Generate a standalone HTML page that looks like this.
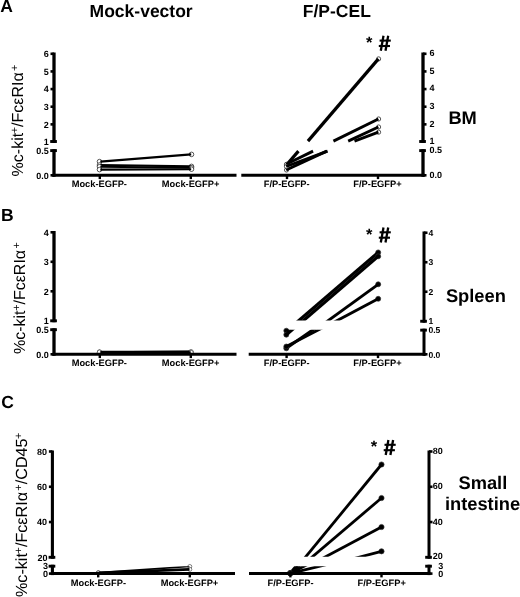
<!DOCTYPE html>
<html><head><meta charset="utf-8"><title>Figure</title>
<style>
html,body{margin:0;padding:0;background:#fff;}
body{width:520px;height:597px;overflow:hidden;font-family:"Liberation Sans",sans-serif;}
svg{display:block;will-change:transform;filter:grayscale(1);}
</style></head><body>
<svg width="520" height="597" viewBox="0 0 520 597" font-family="Liberation Sans, sans-serif" fill="#000" text-rendering="geometricPrecision">
<rect width="520" height="597" fill="#fff"/>
<clipPath id="upA"><rect x="54" y="40.5" width="369" height="100.60"/></clipPath>
<clipPath id="loA"><rect x="54" y="151.10" width="369" height="30.20"/></clipPath>
<circle cx="99.50" cy="161.60" r="2.3" fill="#fff" stroke="#111" stroke-width="0.7"/>
<circle cx="191.50" cy="154.40" r="2.3" fill="#fff" stroke="#111" stroke-width="0.7"/>
<line x1="100.30" y1="161.60" x2="191.20" y2="154.40" stroke="#000" stroke-width="2.1" />
<circle cx="99.50" cy="165.00" r="2.3" fill="#fff" stroke="#111" stroke-width="0.7"/>
<circle cx="191.50" cy="166.40" r="2.3" fill="#fff" stroke="#111" stroke-width="0.7"/>
<line x1="100.30" y1="165.00" x2="191.20" y2="166.40" stroke="#000" stroke-width="2.1" />
<circle cx="99.50" cy="166.70" r="2.3" fill="#fff" stroke="#111" stroke-width="0.7"/>
<circle cx="191.50" cy="167.80" r="2.3" fill="#fff" stroke="#111" stroke-width="0.7"/>
<line x1="100.30" y1="166.70" x2="191.20" y2="167.80" stroke="#000" stroke-width="2.1" />
<circle cx="99.50" cy="169.60" r="2.3" fill="#fff" stroke="#111" stroke-width="0.7"/>
<circle cx="191.50" cy="169.20" r="2.3" fill="#fff" stroke="#111" stroke-width="0.7"/>
<line x1="100.30" y1="169.60" x2="191.20" y2="169.20" stroke="#000" stroke-width="2.1" />
<circle cx="286.50" cy="165.20" r="2.1" fill="#fff" stroke="#111" stroke-width="0.7"/>
<circle cx="378.60" cy="58.90" r="2.1" fill="#fff" stroke="#111" stroke-width="0.7"/>
<line x1="286.20" y1="165.20" x2="298.43" y2="151.10" stroke="#000" stroke-width="3.2" />
<line x1="307.96" y1="141.10" x2="378.40" y2="58.90" stroke="#000" stroke-width="3.2" />
<circle cx="286.50" cy="164.30" r="2.1" fill="#fff" stroke="#111" stroke-width="0.7"/>
<circle cx="378.60" cy="119.00" r="2.1" fill="#fff" stroke="#111" stroke-width="0.7"/>
<line x1="286.20" y1="164.30" x2="313.07" y2="151.10" stroke="#000" stroke-width="2.9" />
<line x1="333.42" y1="141.10" x2="378.40" y2="119.00" stroke="#000" stroke-width="2.9" />
<circle cx="286.50" cy="170.00" r="2.1" fill="#fff" stroke="#111" stroke-width="0.7"/>
<circle cx="378.60" cy="127.00" r="2.1" fill="#fff" stroke="#111" stroke-width="0.7"/>
<line x1="286.20" y1="170.00" x2="326.73" y2="151.10" stroke="#000" stroke-width="2.9" />
<line x1="348.17" y1="141.10" x2="378.40" y2="127.00" stroke="#000" stroke-width="2.9" />
<circle cx="286.50" cy="166.50" r="2.1" fill="#fff" stroke="#111" stroke-width="0.7"/>
<circle cx="378.60" cy="132.20" r="2.1" fill="#fff" stroke="#111" stroke-width="0.7"/>
<line x1="286.20" y1="166.50" x2="327.60" y2="151.10" stroke="#000" stroke-width="2.9" />
<line x1="354.48" y1="141.10" x2="378.40" y2="132.20" stroke="#000" stroke-width="2.9" />
<line x1="54.00" y1="52.50" x2="54.00" y2="142.95" stroke="#000" stroke-width="3.3" />
<line x1="54.00" y1="149.15" x2="54.00" y2="176.80" stroke="#000" stroke-width="3.3" />
<line x1="54.00" y1="53.80" x2="50.50" y2="53.80" stroke="#000" stroke-width="2.6" />
<line x1="54.00" y1="71.44" x2="50.50" y2="71.44" stroke="#000" stroke-width="2.6" />
<line x1="54.00" y1="89.08" x2="50.50" y2="89.08" stroke="#000" stroke-width="2.6" />
<line x1="54.00" y1="106.72" x2="50.50" y2="106.72" stroke="#000" stroke-width="2.6" />
<line x1="54.00" y1="124.36" x2="50.50" y2="124.36" stroke="#000" stroke-width="2.6" />
<line x1="54.00" y1="175.30" x2="50.50" y2="175.30" stroke="#000" stroke-width="2.6" />
<line x1="50.20" y1="141.50" x2="56.90" y2="141.50" stroke="#000" stroke-width="2.9" />
<line x1="50.20" y1="150.60" x2="56.90" y2="150.60" stroke="#000" stroke-width="2.9" />
<line x1="423.00" y1="52.50" x2="423.00" y2="142.95" stroke="#000" stroke-width="3.3" />
<line x1="423.00" y1="149.15" x2="423.00" y2="176.80" stroke="#000" stroke-width="3.3" />
<line x1="423.00" y1="53.80" x2="426.50" y2="53.80" stroke="#000" stroke-width="2.6" />
<line x1="423.00" y1="71.44" x2="426.50" y2="71.44" stroke="#000" stroke-width="2.6" />
<line x1="423.00" y1="89.08" x2="426.50" y2="89.08" stroke="#000" stroke-width="2.6" />
<line x1="423.00" y1="106.72" x2="426.50" y2="106.72" stroke="#000" stroke-width="2.6" />
<line x1="423.00" y1="124.36" x2="426.50" y2="124.36" stroke="#000" stroke-width="2.6" />
<line x1="423.00" y1="175.30" x2="426.50" y2="175.30" stroke="#000" stroke-width="2.6" />
<line x1="419.20" y1="141.50" x2="425.90" y2="141.50" stroke="#000" stroke-width="2.9" />
<line x1="419.20" y1="150.60" x2="425.90" y2="150.60" stroke="#000" stroke-width="2.9" />
<line x1="52.50" y1="175.30" x2="236.50" y2="175.30" stroke="#000" stroke-width="3.0" />
<line x1="241.30" y1="175.30" x2="424.50" y2="175.30" stroke="#000" stroke-width="3.0" />
<line x1="99.80" y1="175.30" x2="99.80" y2="179.10" stroke="#000" stroke-width="2.4" />
<line x1="190.80" y1="175.30" x2="190.80" y2="179.10" stroke="#000" stroke-width="2.4" />
<line x1="287.00" y1="175.30" x2="287.00" y2="179.10" stroke="#000" stroke-width="2.4" />
<line x1="378.00" y1="175.30" x2="378.00" y2="179.10" stroke="#000" stroke-width="2.4" />
<text x="48.80" y="57.00" font-size="9.0" font-weight="bold" text-anchor="end" >6</text>
<text x="48.80" y="74.64" font-size="9.0" font-weight="bold" text-anchor="end" >5</text>
<text x="48.80" y="92.28" font-size="9.0" font-weight="bold" text-anchor="end" >4</text>
<text x="48.80" y="109.92" font-size="9.0" font-weight="bold" text-anchor="end" >3</text>
<text x="48.80" y="127.56" font-size="9.0" font-weight="bold" text-anchor="end" >2</text>
<text x="48.80" y="145.20" font-size="9.0" font-weight="bold" text-anchor="end" >1</text>
<text x="48.80" y="153.70" font-size="9.0" font-weight="bold" text-anchor="end" >0.5</text>
<text x="48.80" y="178.50" font-size="9.0" font-weight="bold" text-anchor="end" >0.0</text>
<text x="429.50" y="56.20" font-size="9.0" font-weight="bold" text-anchor="start" >6</text>
<text x="429.50" y="73.84" font-size="9.0" font-weight="bold" text-anchor="start" >5</text>
<text x="429.50" y="91.48" font-size="9.0" font-weight="bold" text-anchor="start" >4</text>
<text x="429.50" y="109.12" font-size="9.0" font-weight="bold" text-anchor="start" >3</text>
<text x="429.50" y="126.76" font-size="9.0" font-weight="bold" text-anchor="start" >2</text>
<text x="429.50" y="144.40" font-size="9.0" font-weight="bold" text-anchor="start" >1</text>
<text x="429.50" y="152.90" font-size="9.0" font-weight="bold" text-anchor="start" >0.5</text>
<text x="429.50" y="177.70" font-size="9.0" font-weight="bold" text-anchor="start" >0.0</text>
<text x="99.30" y="187.30" font-size="9.3" font-weight="bold" text-anchor="middle" >Mock-EGFP-</text>
<text x="190.60" y="187.30" font-size="9.3" font-weight="bold" text-anchor="middle" >Mock-EGFP+</text>
<text x="286.70" y="187.30" font-size="9.3" font-weight="bold" text-anchor="middle" >F/P-EGFP-</text>
<text x="377.50" y="187.30" font-size="9.3" font-weight="bold" text-anchor="middle" >F/P-EGFP+</text>
<text x="365.90" y="48.20" font-size="16.5" font-weight="bold" text-anchor="start" >*</text>
<line x1="383.50" y1="35.80" x2="380.80" y2="50.80" stroke="#000" stroke-width="2.3" />
<line x1="388.20" y1="35.80" x2="385.50" y2="50.80" stroke="#000" stroke-width="2.3" />
<line x1="379.60" y1="40.60" x2="390.80" y2="40.60" stroke="#000" stroke-width="2.1" />
<line x1="378.80" y1="46.00" x2="390.00" y2="46.00" stroke="#000" stroke-width="2.1" />
<text transform="translate(22.80,176.40) rotate(-90)" font-size="16" font-weight="normal" text-anchor="start">%c-kit<tspan font-size="10.88" dy="-5.28" dx="-0.4">+</tspan><tspan dy="5.28">/FcεRIα</tspan><tspan font-size="10.88" dy="-5.28" dx="1.3">+</tspan></text>
<clipPath id="upB"><rect x="54" y="219.0" width="370" height="101.60"/></clipPath>
<clipPath id="loB"><rect x="54" y="329.80" width="370" height="30.50"/></clipPath>
<circle cx="99.50" cy="352.00" r="2.2" fill="#fff" stroke="#333" stroke-width="0.6"/>
<circle cx="191.00" cy="352.00" r="2.2" fill="#fff" stroke="#333" stroke-width="0.6"/>
<line x1="100.30" y1="352.00" x2="190.70" y2="352.00" stroke="#000" stroke-width="2.4" clip-path="url(#loB)"/>
<line x1="100.30" y1="352.00" x2="190.70" y2="352.00" stroke="#000" stroke-width="2.4" clip-path="url(#upB)"/>
<circle cx="99.50" cy="352.50" r="2.2" fill="#fff" stroke="#333" stroke-width="0.6"/>
<circle cx="191.00" cy="351.80" r="2.2" fill="#fff" stroke="#333" stroke-width="0.6"/>
<line x1="100.30" y1="352.50" x2="190.70" y2="351.80" stroke="#000" stroke-width="2.4" clip-path="url(#loB)"/>
<line x1="100.30" y1="352.50" x2="190.70" y2="351.80" stroke="#000" stroke-width="2.4" clip-path="url(#upB)"/>
<circle cx="99.50" cy="352.20" r="2.2" fill="#fff" stroke="#333" stroke-width="0.6"/>
<circle cx="191.00" cy="352.50" r="2.2" fill="#fff" stroke="#333" stroke-width="0.6"/>
<line x1="100.30" y1="352.20" x2="190.70" y2="352.50" stroke="#000" stroke-width="2.4" clip-path="url(#loB)"/>
<line x1="100.30" y1="352.20" x2="190.70" y2="352.50" stroke="#000" stroke-width="2.4" clip-path="url(#upB)"/>
<circle cx="286.30" cy="330.70" r="2.5" fill="#000" stroke="#333" stroke-width="0.7"/>
<circle cx="378.20" cy="252.40" r="2.5" fill="#000" stroke="#333" stroke-width="0.7"/>
<line x1="286.30" y1="330.70" x2="378.20" y2="252.40" stroke="#000" stroke-width="3.2" clip-path="url(#loB)"/>
<line x1="286.30" y1="331.30" x2="378.20" y2="252.40" stroke="#000" stroke-width="3.2" clip-path="url(#upB)"/>
<circle cx="286.30" cy="334.70" r="2.5" fill="#000" stroke="#333" stroke-width="0.7"/>
<circle cx="378.20" cy="256.30" r="2.5" fill="#000" stroke="#333" stroke-width="0.7"/>
<line x1="286.30" y1="334.70" x2="378.20" y2="256.30" stroke="#000" stroke-width="3.2" clip-path="url(#loB)"/>
<line x1="286.30" y1="335.30" x2="378.20" y2="256.30" stroke="#000" stroke-width="3.2" clip-path="url(#upB)"/>
<circle cx="286.30" cy="348.30" r="2.5" fill="#000" stroke="#333" stroke-width="0.7"/>
<circle cx="378.20" cy="284.30" r="2.5" fill="#000" stroke="#333" stroke-width="0.7"/>
<line x1="286.30" y1="348.30" x2="378.20" y2="284.30" stroke="#000" stroke-width="2.9" clip-path="url(#loB)"/>
<line x1="286.30" y1="351.00" x2="378.20" y2="284.30" stroke="#000" stroke-width="2.9" clip-path="url(#upB)"/>
<circle cx="286.30" cy="346.50" r="2.5" fill="#000" stroke="#333" stroke-width="0.7"/>
<circle cx="378.20" cy="298.80" r="2.5" fill="#000" stroke="#333" stroke-width="0.7"/>
<line x1="286.30" y1="346.50" x2="378.20" y2="298.80" stroke="#000" stroke-width="2.9" clip-path="url(#loB)"/>
<line x1="286.30" y1="347.50" x2="378.20" y2="298.80" stroke="#000" stroke-width="2.9" clip-path="url(#upB)"/>
<line x1="54.00" y1="231.00" x2="54.00" y2="322.25" stroke="#000" stroke-width="3.3" />
<line x1="54.00" y1="328.25" x2="54.00" y2="355.80" stroke="#000" stroke-width="3.3" />
<line x1="54.00" y1="232.30" x2="50.50" y2="232.30" stroke="#000" stroke-width="2.6" />
<line x1="54.00" y1="261.80" x2="50.50" y2="261.80" stroke="#000" stroke-width="2.6" />
<line x1="54.00" y1="291.30" x2="50.50" y2="291.30" stroke="#000" stroke-width="2.6" />
<line x1="54.00" y1="354.30" x2="50.50" y2="354.30" stroke="#000" stroke-width="2.6" />
<line x1="50.20" y1="320.80" x2="56.90" y2="320.80" stroke="#000" stroke-width="2.9" />
<line x1="50.20" y1="329.70" x2="56.90" y2="329.70" stroke="#000" stroke-width="2.9" />
<line x1="424.00" y1="231.45" x2="424.00" y2="322.70" stroke="#000" stroke-width="3.0" />
<line x1="424.00" y1="328.70" x2="424.00" y2="355.80" stroke="#000" stroke-width="3.0" />
<line x1="424.00" y1="232.75" x2="427.50" y2="232.75" stroke="#000" stroke-width="2.6" />
<line x1="424.00" y1="262.25" x2="427.50" y2="262.25" stroke="#000" stroke-width="2.6" />
<line x1="424.00" y1="291.75" x2="427.50" y2="291.75" stroke="#000" stroke-width="2.6" />
<line x1="424.00" y1="354.30" x2="427.50" y2="354.30" stroke="#000" stroke-width="2.6" />
<line x1="420.20" y1="321.25" x2="426.90" y2="321.25" stroke="#000" stroke-width="2.9" />
<line x1="420.20" y1="330.15" x2="426.90" y2="330.15" stroke="#000" stroke-width="2.9" />
<line x1="52.50" y1="354.30" x2="236.50" y2="354.30" stroke="#000" stroke-width="3.0" />
<line x1="248.70" y1="354.30" x2="425.50" y2="354.30" stroke="#000" stroke-width="3.0" />
<line x1="99.80" y1="354.30" x2="99.80" y2="358.10" stroke="#000" stroke-width="2.4" />
<line x1="190.80" y1="354.30" x2="190.80" y2="358.10" stroke="#000" stroke-width="2.4" />
<line x1="286.60" y1="354.30" x2="286.60" y2="358.10" stroke="#000" stroke-width="2.4" />
<line x1="378.00" y1="354.30" x2="378.00" y2="358.10" stroke="#000" stroke-width="2.4" />
<text x="48.80" y="235.50" font-size="9.0" font-weight="bold" text-anchor="end" >4</text>
<text x="48.80" y="265.00" font-size="9.0" font-weight="bold" text-anchor="end" >3</text>
<text x="48.80" y="294.50" font-size="9.0" font-weight="bold" text-anchor="end" >2</text>
<text x="48.80" y="324.00" font-size="9.0" font-weight="bold" text-anchor="end" >1</text>
<text x="48.80" y="332.90" font-size="9.0" font-weight="bold" text-anchor="end" >0.5</text>
<text x="48.80" y="357.50" font-size="9.0" font-weight="bold" text-anchor="end" >0.0</text>
<text x="428.40" y="235.60" font-size="8.6" font-weight="bold" text-anchor="start" >4</text>
<text x="428.40" y="265.10" font-size="8.6" font-weight="bold" text-anchor="start" >3</text>
<text x="428.40" y="294.60" font-size="8.6" font-weight="bold" text-anchor="start" >2</text>
<text x="428.40" y="324.10" font-size="8.6" font-weight="bold" text-anchor="start" >1</text>
<text x="428.40" y="333.00" font-size="8.6" font-weight="bold" text-anchor="start" >0.5</text>
<text x="428.40" y="357.60" font-size="8.6" font-weight="bold" text-anchor="start" >0.0</text>
<text x="99.30" y="366.30" font-size="9.3" font-weight="bold" text-anchor="middle" >Mock-EGFP-</text>
<text x="190.60" y="366.30" font-size="9.3" font-weight="bold" text-anchor="middle" >Mock-EGFP+</text>
<text x="286.70" y="366.30" font-size="9.3" font-weight="bold" text-anchor="middle" >F/P-EGFP-</text>
<text x="377.50" y="366.30" font-size="9.3" font-weight="bold" text-anchor="middle" >F/P-EGFP+</text>
<text x="365.90" y="239.90" font-size="16.5" font-weight="bold" text-anchor="start" >*</text>
<line x1="383.50" y1="227.50" x2="380.80" y2="242.50" stroke="#000" stroke-width="2.3" />
<line x1="388.20" y1="227.50" x2="385.50" y2="242.50" stroke="#000" stroke-width="2.3" />
<line x1="379.60" y1="232.30" x2="390.80" y2="232.30" stroke="#000" stroke-width="2.1" />
<line x1="378.80" y1="237.70" x2="390.00" y2="237.70" stroke="#000" stroke-width="2.1" />
<text transform="translate(25.20,354.00) rotate(-90)" font-size="16" font-weight="normal" text-anchor="start">%c-kit<tspan font-size="10.88" dy="-5.28" dx="-0.4">+</tspan><tspan dy="5.28">/FcεRIα</tspan><tspan font-size="10.88" dy="-5.28" dx="1.3">+</tspan></text>
<clipPath id="upC"><rect x="52.4" y="438.5" width="376.6" height="118.20"/></clipPath>
<clipPath id="loC"><rect x="52.4" y="566.20" width="376.6" height="13.40"/></clipPath>
<circle cx="98.30" cy="572.60" r="2.0" fill="#fff" stroke="#333" stroke-width="0.6"/>
<circle cx="189.80" cy="566.50" r="2.0" fill="#fff" stroke="#333" stroke-width="0.6"/>
<line x1="98.80" y1="572.60" x2="189.50" y2="566.50" stroke="#000" stroke-width="1.7" clip-path="url(#loC)"/>
<line x1="98.80" y1="572.60" x2="189.50" y2="566.50" stroke="#000" stroke-width="1.7" clip-path="url(#upC)"/>
<circle cx="98.30" cy="572.90" r="2.0" fill="#fff" stroke="#333" stroke-width="0.6"/>
<circle cx="189.80" cy="569.40" r="2.0" fill="#fff" stroke="#333" stroke-width="0.6"/>
<line x1="98.80" y1="572.90" x2="189.50" y2="569.40" stroke="#000" stroke-width="2.6" clip-path="url(#loC)"/>
<line x1="98.80" y1="572.90" x2="189.50" y2="569.40" stroke="#000" stroke-width="2.6" clip-path="url(#upC)"/>
<circle cx="290.30" cy="573.00" r="2.6" fill="#000" stroke="#333" stroke-width="0.7"/>
<circle cx="381.50" cy="464.50" r="2.6" fill="#000" stroke="#333" stroke-width="0.7"/>
<line x1="290.30" y1="573.00" x2="381.50" y2="464.50" stroke="#000" stroke-width="2.8" clip-path="url(#loC)"/>
<line x1="290.30" y1="575.60" x2="381.50" y2="464.50" stroke="#000" stroke-width="2.8" clip-path="url(#upC)"/>
<circle cx="290.30" cy="573.10" r="2.6" fill="#000" stroke="#333" stroke-width="0.7"/>
<circle cx="381.50" cy="498.00" r="2.6" fill="#000" stroke="#333" stroke-width="0.7"/>
<line x1="290.30" y1="573.10" x2="381.50" y2="498.00" stroke="#000" stroke-width="2.8" clip-path="url(#loC)"/>
<line x1="290.30" y1="575.60" x2="381.50" y2="498.00" stroke="#000" stroke-width="2.8" clip-path="url(#upC)"/>
<circle cx="290.30" cy="573.20" r="2.6" fill="#000" stroke="#333" stroke-width="0.7"/>
<circle cx="381.50" cy="527.00" r="2.6" fill="#000" stroke="#333" stroke-width="0.7"/>
<line x1="290.30" y1="573.20" x2="381.50" y2="527.00" stroke="#000" stroke-width="2.8" clip-path="url(#loC)"/>
<line x1="290.30" y1="575.50" x2="381.50" y2="527.00" stroke="#000" stroke-width="2.8" clip-path="url(#upC)"/>
<circle cx="290.30" cy="573.30" r="2.6" fill="#000" stroke="#333" stroke-width="0.7"/>
<circle cx="381.50" cy="551.30" r="2.6" fill="#000" stroke="#333" stroke-width="0.7"/>
<line x1="290.30" y1="573.30" x2="381.50" y2="551.30" stroke="#000" stroke-width="2.8" clip-path="url(#loC)"/>
<line x1="290.30" y1="575.40" x2="381.50" y2="551.30" stroke="#000" stroke-width="2.8" clip-path="url(#upC)"/>
<line x1="52.40" y1="450.50" x2="52.40" y2="558.75" stroke="#000" stroke-width="3.1" />
<line x1="52.40" y1="564.75" x2="52.40" y2="575.10" stroke="#000" stroke-width="3.1" />
<line x1="52.40" y1="451.50" x2="48.90" y2="451.50" stroke="#000" stroke-width="2.6" />
<line x1="52.40" y1="486.77" x2="48.90" y2="486.77" stroke="#000" stroke-width="2.6" />
<line x1="52.40" y1="522.03" x2="48.90" y2="522.03" stroke="#000" stroke-width="2.6" />
<line x1="52.40" y1="573.60" x2="48.90" y2="573.60" stroke="#000" stroke-width="2.6" />
<line x1="48.60" y1="557.30" x2="55.30" y2="557.30" stroke="#000" stroke-width="2.9" />
<line x1="48.60" y1="566.20" x2="55.30" y2="566.20" stroke="#000" stroke-width="2.9" />
<line x1="429.00" y1="450.50" x2="429.00" y2="558.75" stroke="#000" stroke-width="3.0" />
<line x1="429.00" y1="564.75" x2="429.00" y2="575.10" stroke="#000" stroke-width="3.0" />
<line x1="429.00" y1="451.50" x2="432.50" y2="451.50" stroke="#000" stroke-width="2.6" />
<line x1="429.00" y1="486.77" x2="432.50" y2="486.77" stroke="#000" stroke-width="2.6" />
<line x1="429.00" y1="522.03" x2="432.50" y2="522.03" stroke="#000" stroke-width="2.6" />
<line x1="429.00" y1="573.60" x2="432.50" y2="573.60" stroke="#000" stroke-width="2.6" />
<line x1="425.20" y1="557.30" x2="431.90" y2="557.30" stroke="#000" stroke-width="2.9" />
<line x1="425.20" y1="566.20" x2="431.90" y2="566.20" stroke="#000" stroke-width="2.9" />
<line x1="50.80" y1="573.60" x2="235.00" y2="573.60" stroke="#000" stroke-width="3.0" />
<line x1="249.00" y1="573.60" x2="430.50" y2="573.60" stroke="#000" stroke-width="3.0" />
<line x1="98.20" y1="573.60" x2="98.20" y2="577.40" stroke="#000" stroke-width="2.4" />
<line x1="189.80" y1="573.60" x2="189.80" y2="577.40" stroke="#000" stroke-width="2.4" />
<line x1="290.40" y1="573.60" x2="290.40" y2="577.40" stroke="#000" stroke-width="2.4" />
<line x1="381.50" y1="573.60" x2="381.50" y2="577.40" stroke="#000" stroke-width="2.4" />
<text x="47.00" y="454.70" font-size="9.0" font-weight="bold" text-anchor="end" >80</text>
<text x="47.00" y="489.97" font-size="9.0" font-weight="bold" text-anchor="end" >60</text>
<text x="47.00" y="525.23" font-size="9.0" font-weight="bold" text-anchor="end" >40</text>
<text x="47.50" y="560.50" font-size="9.0" font-weight="bold" text-anchor="end" >20</text>
<text x="47.90" y="569.40" font-size="9.0" font-weight="bold" text-anchor="end" >3</text>
<text x="47.90" y="576.80" font-size="9.0" font-weight="bold" text-anchor="end" >0</text>
<text x="432.80" y="454.10" font-size="9.0" font-weight="bold" text-anchor="start" >80</text>
<text x="432.80" y="489.37" font-size="9.0" font-weight="bold" text-anchor="start" >60</text>
<text x="432.80" y="524.63" font-size="9.0" font-weight="bold" text-anchor="start" >40</text>
<text x="432.80" y="559.20" font-size="9.0" font-weight="bold" text-anchor="start" >20</text>
<text x="438.30" y="569.40" font-size="9.0" font-weight="bold" text-anchor="start" >3</text>
<text x="438.30" y="576.80" font-size="9.0" font-weight="bold" text-anchor="start" >0</text>
<text x="98.40" y="585.70" font-size="9.3" font-weight="bold" text-anchor="middle" >Mock-EGFP-</text>
<text x="189.50" y="585.70" font-size="9.3" font-weight="bold" text-anchor="middle" >Mock-EGFP+</text>
<text x="290.60" y="585.70" font-size="9.3" font-weight="bold" text-anchor="middle" >F/P-EGFP-</text>
<text x="381.70" y="585.70" font-size="9.3" font-weight="bold" text-anchor="middle" >F/P-EGFP+</text>
<text x="370.80" y="452.40" font-size="16.5" font-weight="bold" text-anchor="start" >*</text>
<line x1="388.40" y1="440.00" x2="385.70" y2="455.00" stroke="#000" stroke-width="2.3" />
<line x1="393.10" y1="440.00" x2="390.40" y2="455.00" stroke="#000" stroke-width="2.3" />
<line x1="384.50" y1="444.80" x2="395.70" y2="444.80" stroke="#000" stroke-width="2.1" />
<line x1="383.70" y1="450.20" x2="394.90" y2="450.20" stroke="#000" stroke-width="2.1" />
<text transform="translate(27.00,597.00) rotate(-90)" font-size="16.15" font-weight="normal" text-anchor="start">%c-kit<tspan font-size="10.98" dy="-5.33" dx="-0.4">+</tspan><tspan dy="5.33">/FcεRIα</tspan><tspan font-size="10.98" dy="-5.33" dx="1.3">+</tspan><tspan dy="5.33">/CD45</tspan><tspan font-size="10.98" dy="-5.33" dx="-0.4">+</tspan></text>
<text x="89.60" y="17.30" font-size="17.5" font-weight="bold" text-anchor="start" >Mock-vector</text>
<text x="302.80" y="17.30" font-size="17.5" font-weight="bold" text-anchor="start" >F/P-CEL</text>
<text x="0.30" y="12.40" font-size="17.5" font-weight="bold" text-anchor="start" >A</text>
<text x="0.90" y="220.70" font-size="17.5" font-weight="bold" text-anchor="start" >B</text>
<text x="1.20" y="407.50" font-size="17.5" font-weight="bold" text-anchor="start" >C</text>
<text x="448.40" y="123.80" font-size="18.3" font-weight="bold" text-anchor="start" >BM</text>
<text x="445.90" y="302.00" font-size="18.3" font-weight="bold" text-anchor="start" >Spleen</text>
<text x="482.90" y="489.20" font-size="18.3" font-weight="bold" text-anchor="middle" >Small</text>
<text x="444.90" y="510.30" font-size="18.3" font-weight="bold" text-anchor="start" >intestine</text>
</svg>
</body></html>
